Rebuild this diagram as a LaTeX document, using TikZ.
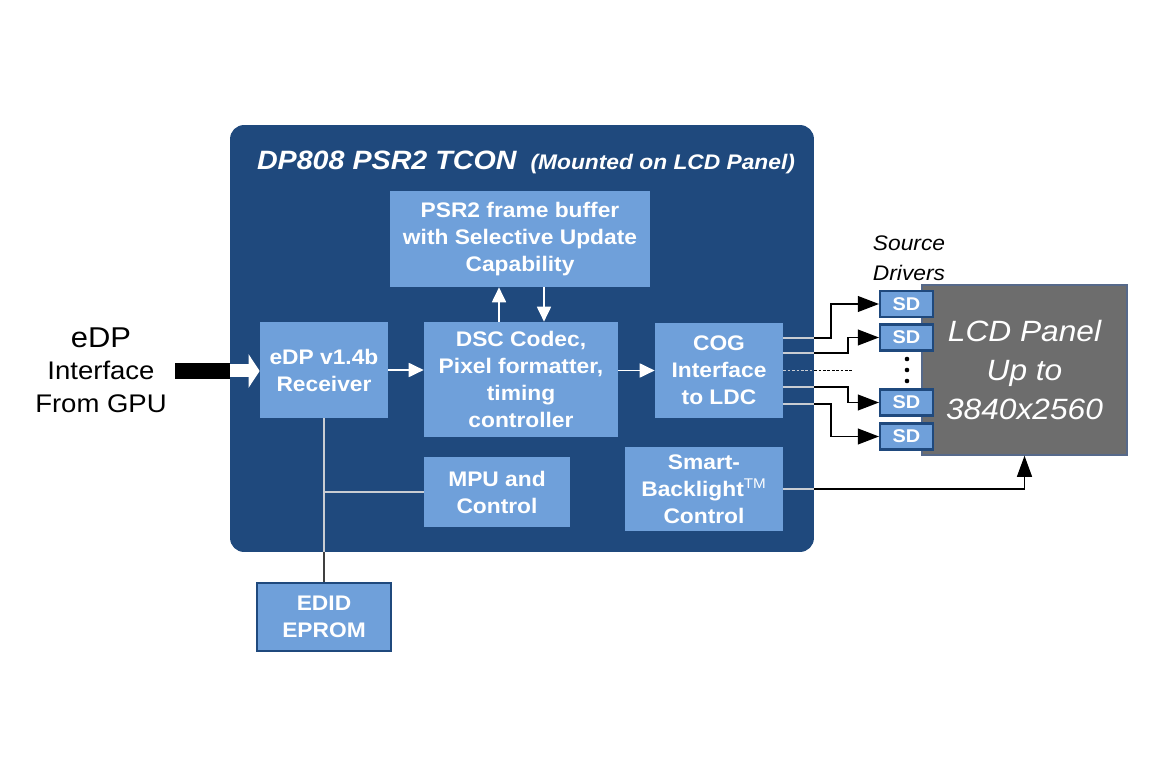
\documentclass[tikz,border=0pt]{standalone}
\usepackage{fontspec}
\setmainfont{Liberation Sans}[FakeStretch=1.08]
\usetikzlibrary{positioning, arrows.meta}

\definecolor{tconblue}{HTML}{1F497D}
\definecolor{blkblue}{HTML}{6FA0DA}
\definecolor{panelgray}{HTML}{6D6D6D}
\definecolor{paneledge}{HTML}{56698A}
\definecolor{wirelight}{HTML}{C9CDD3}

\begin{document}
\begin{tikzpicture}[
    x=0.02cm, y=-0.02cm,
    tconbox/.style={fill=tconblue, rounded corners=0.28cm, inner sep=0pt},
    blk/.style={fill=blkblue, text=white, align=center, inner sep=0pt,
        font=\fontsize{12}{15.4}\selectfont\bfseries},
    sdbox/.style={fill=blkblue, draw=tconblue, line width=1.2pt, text=white, inner sep=0pt,
        minimum width=1.06cm, minimum height=0.52cm, font=\fontsize{10.5}{12}\selectfont\bfseries},
    arr/.style={white, line width=0.9pt, -{Triangle[length=8.5pt, width=8pt]}},
    wire/.style={line width=0.8pt, black},
    inwire/.style={line width=0.8pt, wirelight},
    sdarr/.style={wire, -{Triangle[length=12pt, width=9pt]}},
]
\useasboundingbox (0,0) rectangle (1150,780);

% TCON chip
\node[tconbox, minimum width=11.68cm, minimum height=8.54cm] (tcon) at (522,338.5) {};
\node[anchor=base, text=white, inner sep=0pt] (title) at (526,170)
    {{\fontsize{15.1}{17}\selectfont\bfseries\itshape DP808 PSR2 TCON}\hspace{0.8em}%
     {\fontsize{12}{14}\selectfont\bfseries\itshape (Mounted on LCD Panel)}};

% Blocks
\node[blk, minimum width=5.2cm, minimum height=1.92cm] (psr) at (520,239) {PSR2 frame buffer\\with Selective Update\\Capability};
\node[blk, minimum width=2.56cm, minimum height=1.92cm] (rx) at (324,370) {eDP v1.4b\\Receiver};
\node[blk, minimum width=3.88cm, minimum height=2.3cm] (dsc) at (521,379.5) {DSC Codec,\\Pixel formatter,\\timing\\controller};
\node[blk, minimum width=2.56cm, minimum height=1.9cm] (cog) at (719,370.5) {COG\\Interface\\to LDC};
\node[blk, minimum width=2.92cm, minimum height=1.4cm] (mpu) at (497,492) {MPU and\\Control};
\node[blk, minimum width=3.16cm, minimum height=1.68cm] (sbl) at (704,489) {Smart-\\Backlight\textsuperscript{\mdseries TM}\\Control};
\node[blk, draw=tconblue, line width=1.5pt, minimum width=2.68cm, minimum height=1.36cm] (edid) at (324,617) {EDID\\EPROM};

% Panel and source drivers
\node[fill=panelgray, draw=paneledge, line width=0.8pt, minimum width=4.1cm, minimum height=3.4cm,
    text=white, align=center, font=\fontsize{16.7}{22.2}\selectfont\itshape] (lcd) at (1024.5,370) {LCD Panel\\Up to\\3840x2560};
\node[sdbox] (sd1) at (906.5,304) {SD};
\node[sdbox] (sd2) at (906.5,337.5) {SD};
\node[sdbox] (sd3) at (906.5,402.5) {SD};
\node[sdbox] (sd4) at (906.5,436.5) {SD};
\node[align=center, font=\fontsize{12}{17}\selectfont\itshape] (srclbl) at (909,258) {Source\\Drivers};
\foreach \y in {359,370,381}
    \fill (907,\y) circle (1.3pt);

% Input from GPU
\node[align=center, font=\fontsize{14.5}{18.5}\selectfont] (gpu) at (101,370)
    {\fontsize{16.3}{18.5}\selectfont eDP\\\fontsize{14.5}{18.5}\selectfont Interface\\From GPU};
\coordinate (inL) at (175,371);
\draw[line width=9.1pt, black] (inL) -- (inL -| tcon.west);
\draw[white, line width=7.4pt, -{Triangle[length=6.3pt, width=18.8pt]}] (inL -| tcon.west) -- (inL -| rx.west);

% Data path
\draw[arr] (rx.east) -- (rx.east -| dsc.west);
\draw[arr] (dsc.east |- cog.west) -- (cog.west);
\draw[arr] ([xshift=-0.44cm]dsc.north) -- ([xshift=-0.44cm]dsc.north |- psr.south);
\draw[arr] ([xshift=0.48cm]psr.south) -- ([xshift=0.48cm]psr.south |- dsc.north);

% Receiver to EDID and MPU
\draw[inwire] (rx.south) -- (rx.south |- tcon.south);
\draw[wire, black!75] (rx.south |- tcon.south) -- (edid.north);
\draw[inwire] (rx.south |- mpu.west) -- (mpu.west);

% COG to source drivers
\coordinate (ka) at (831,300);
\coordinate (kb) at (848,300);
\foreach \dy/\k/\sd in {0.65/ka/sd1, 0.35/kb/sd2, -0.33/kb/sd3, -0.67/ka/sd4} {
    \draw[inwire] ([yshift=\dy cm]cog.east) -- ([yshift=\dy cm]cog.east -| tcon.east);
    \draw[sdarr] ([yshift=\dy cm]cog.east -| tcon.east) -| (\k |- \sd.west) -- (\sd.west);
}
\coordinate (dotend) at (852,370.5);
\draw[inwire, dash pattern=on 1.5pt off 1pt] (cog.east) -- (cog.east -| tcon.east);
\draw[wire, dash pattern=on 1.5pt off 1pt] (cog.east -| tcon.east) -- (dotend);

% Backlight control
\draw[inwire] (sbl.east) -- (sbl.east -| tcon.east);
\draw[wire, -{Triangle[length=12pt, width=8.5pt]}] (sbl.east -| tcon.east) -| (lcd.south);
\end{tikzpicture}
\end{document}
